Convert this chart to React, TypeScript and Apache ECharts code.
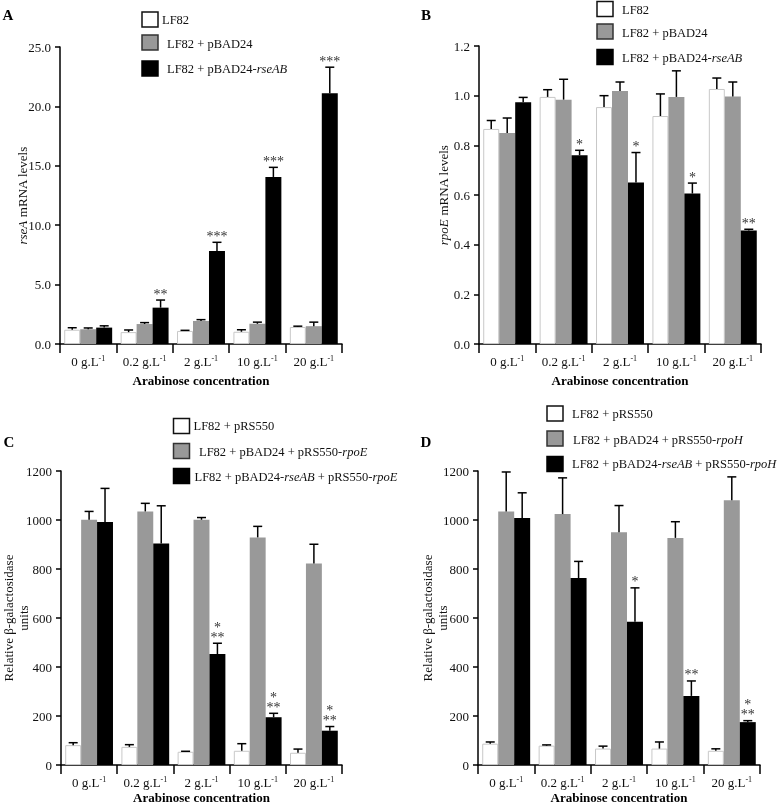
import React, { useEffect, useRef } from 'react';
import * as echarts from 'echarts';

const FONT = 'Liberation Serif, Times New Roman, serif';

// Shared categories (arabinose concentration, g.L-1)
const concentrations = ['0', '0.2', '2', '10', '20'];
const xAxisTitle = 'Arabinose concentration';

// Panel A: rseA mRNA levels
const aNames = ['LF82', 'LF82 + pBAD24', 'LF82 + pBAD24-rseAB'];
const aWhite = [1.2, 1.0, 1.1, 1.03, 1.43];
const aWhiteErr = [0.17, 0.18, 0.05, 0.17, 0.07];
const aGray = [1.25, 1.68, 1.94, 1.7, 1.5];
const aGrayErr = [0.1, 0.12, 0.11, 0.14, 0.34];
const aBlack = [1.38, 3.06, 7.83, 14.06, 21.1];
const aBlackErr = [0.15, 0.64, 0.73, 0.81, 2.2];
const aStars = ['', '**', '***', '***', '***'];

// Panel B: rpoE mRNA levels
const bNames = ['LF82', 'LF82 + pBAD24', 'LF82 + pBAD24-rseAB'];
const bWhite = [0.866, 0.995, 0.954, 0.918, 1.027];
const bWhiteErr = [0.034, 0.029, 0.046, 0.089, 0.044];
const bGray = [0.85, 0.984, 1.019, 0.995, 0.997];
const bGrayErr = [0.06, 0.082, 0.036, 0.105, 0.058];
const bBlack = [0.973, 0.76, 0.65, 0.606, 0.457];
const bBlackErr = [0.02, 0.02, 0.121, 0.042, 0.005];
const bStars = ['', '*', '*', '*', '**'];

// Panel C: relative beta-galactosidase units (rpoE)
const cNames = ['LF82 + pRS550', 'LF82 + pBAD24 + pRS550-rpoE', 'LF82 + pBAD24-rseAB + pRS550-rpoE'];
const cWhite = [81, 74, 54, 58, 50];
const cWhiteErr = [10, 9, 2, 29, 15];
const cGray = [1001, 1035, 1001, 929, 822];
const cGrayErr = [34, 33, 9, 45, 79];
const cBlack = [992, 904, 453, 195, 140];
const cBlackErr = [137, 154, 44, 16, 17];
const cStars = ['', '', '*\n**', '*\n**', '*\n**'];

// Panel D: relative beta-galactosidase units (rpoH)
const dNames = ['LF82 + pRS550', 'LF82 + pBAD24 + pRS550-rpoH', 'LF82 + pBAD24-rseAB + pRS550-rpoH'];
const dWhite = [87, 79, 67, 67, 58];
const dWhiteErr = [7, 3, 10, 27, 8];
const dGray = [1035, 1024, 950, 927, 1081];
const dGrayErr = [161, 148, 109, 66, 95];
const dBlack = [1008, 763, 585, 282, 175];
const dBlackErr = [103, 68, 138, 61, 6];
const dStars = ['', '', '*', '**', '*\n**'];

const barColors = ['#ffffff', '#999999', '#000000'];
const boxBorders = ['#111111', '#333333', '#000000'];

const panels = [
  {
    letter: 'A', letterPos: [8, 15],
    grid: { left: 60, top: 47, width: 282, height: 297 },
    yMax: 25, yStep: 5, dec: 1,
    yName: '{i|rseA} mRNA levels', yNameGap: 30, xNameGap: 30,
    names: aNames, values: [aWhite, aGray, aBlack], errs: [aWhiteErr, aGrayErr, aBlackErr], stars: aStars,
    legend: { boxX: 142, boxYs: [12, 35, 61], textXs: [162, 167, 167], textYs: [20, 44, 69] },
  },
  {
    letter: 'B', letterPos: [426, 15],
    grid: { left: 479, top: 46, width: 282, height: 298 },
    yMax: 1.2, yStep: 0.2, dec: 1,
    yName: '{i|rpoE} mRNA levels', yNameGap: 28, xNameGap: 30,
    names: bNames, values: [bWhite, bGray, bBlack], errs: [bWhiteErr, bGrayErr, bBlackErr], stars: bStars,
    legend: { boxX: 597, boxYs: [1.5, 24, 49.5], textXs: [622, 622, 622], textYs: [10, 33, 58] },
  },
  {
    letter: 'C', letterPos: [9, 442],
    grid: { left: 60, top: 471, width: 282, height: 297 },
    yMax: 1200, yStep: 200, dec: 0,
    yName: 'Relative β-galactosidase\nunits', yNameGap: 30, xNameGap: 26,
    names: cNames, values: [cWhite, cGray, cBlack], errs: [cWhiteErr, cGrayErr, cBlackErr], stars: cStars,
    legend: { boxX: 173.5, boxYs: [418.5, 443.5, 468.5], textXs: [193.5, 199, 194.5], textYs: [426, 452, 477] },
  },
  {
    letter: 'D', letterPos: [426, 442],
    grid: { left: 478, top: 471, width: 282, height: 297 },
    yMax: 1200, yStep: 200, dec: 0,
    yName: 'Relative β-galactosidase\nunits', yNameGap: 28, xNameGap: 26,
    names: dNames, values: [dWhite, dGray, dBlack], errs: [dWhiteErr, dGrayErr, dBlackErr], stars: dStars,
    legend: { boxX: 547, boxYs: [406, 431, 456.5], textXs: [572, 573, 572], textYs: [414, 440, 464] },
  },
];

const italicize = (s: string) => s.replace(/-(r[a-zA-Z]+)/g, '-{i|$1}');

function buildOption() {
  const grid: any[] = [];
  const xAxis: any[] = [];
  const yAxis: any[] = [];
  const series: any[] = [];
  const graphic: any[] = [];

  panels.forEach((p, gi) => {
    grid.push({ ...p.grid, containLabel: false });
    xAxis.push({
      type: 'category',
      gridIndex: gi,
      data: concentrations,
      axisLine: { lineStyle: { color: '#000', width: 1.5 } },
      axisTick: { show: true, length: 9, lineStyle: { color: '#000', width: 1.5 } },
      axisLabel: {
        margin: 10,
        interval: 0,
        hideOverlap: false,
        formatter: (v: string) => `{n|${v} g.L}{s|-1}`,
        rich: {
          n: { fontFamily: FONT, fontSize: 13, color: '#111' },
          s: { fontFamily: FONT, fontSize: 8, color: '#111', verticalAlign: 'top', padding: [0, 0, 6, 0] },
        },
      },
      name: xAxisTitle,
      nameLocation: 'middle',
      nameGap: p.xNameGap,
      nameMoveOverlap: false,
      nameTextStyle: { fontFamily: FONT, fontSize: 13, fontWeight: 'bold', color: '#000' },
    });
    yAxis.push({
      type: 'value',
      gridIndex: gi,
      min: 0,
      max: p.yMax,
      interval: p.yStep,
      splitLine: { show: false },
      axisLine: { show: true, lineStyle: { color: '#000', width: 1.5 } },
      axisTick: { show: true, length: 5, lineStyle: { color: '#000', width: 1.5 } },
      axisLabel: {
        margin: 9,
        fontFamily: FONT,
        fontSize: 13,
        color: '#111',
        formatter: (v: number) => v.toFixed(p.dec),
      },
      name: p.yName,
      nameLocation: 'middle',
      nameRotate: 90,
      nameGap: p.yNameGap,
      nameMoveOverlap: false,
      nameTextStyle: {
        fontFamily: FONT, fontSize: 13, color: '#111', lineHeight: 15, align: 'center',
        rich: { i: { fontFamily: FONT, fontSize: 13, fontStyle: 'italic', color: '#111' } },
      },
    });

    p.values.forEach((vals, k) => {
      series.push({
        type: 'bar',
        name: p.names[k],
        xAxisIndex: gi,
        yAxisIndex: gi,
        data: vals,
        barGap: '0%',
        barCategoryGap: '15%',
        itemStyle: k === 0
          ? { color: '#ffffff', borderColor: '#c8c8c8', borderWidth: 1 }
          : { color: barColors[k] },
        silent: true,
      });
    });

    const stars = p.stars;
    series.push({
      type: 'custom',
      xAxisIndex: gi,
      yAxisIndex: gi,
      silent: true,
      clip: false,
      z: 5,
      encode: { x: 0, y: [1, 3, 5] },
      data: concentrations.map((_, i) => [
        i, p.values[0][i], p.errs[0][i], p.values[1][i], p.errs[1][i], p.values[2][i], p.errs[2][i],
      ]),
      renderItem: (params: any, api: any) => {
        const idx = api.value(0) as number;
        const band = api.size([1, 0])[0];
        const bw = (band * 0.85) / 3;
        const center = api.coord([idx, 0]);
        const cap = 9;
        const children: any[] = [];
        for (let k = 0; k < 3; k++) {
          const v = api.value(1 + 2 * k) as number;
          const e = api.value(2 + 2 * k) as number;
          const x = center[0] + (k - 1) * bw;
          const yTop = api.coord([idx, v])[1];
          const yErr = api.coord([idx, v + e])[1];
          children.push({
            type: 'line',
            shape: { x1: x, y1: yTop, x2: x, y2: yErr },
            style: { stroke: '#000', lineWidth: 1.5 },
          });
          children.push({
            type: 'line',
            shape: { x1: x - cap / 2, y1: yErr, x2: x + cap / 2, y2: yErr },
            style: { stroke: '#000', lineWidth: 1.5 },
          });
          if (k === 2 && stars[idx]) {
            const lines = stars[idx].split('\n').reverse();
            lines.forEach((ln, li) => {
              children.push({
                type: 'text',
                x,
                y: yErr - 1 - li * 10,
                style: {
                  text: ln,
                  fill: '#333',
                  font: `14px ${FONT}`,
                  align: 'center',
                  verticalAlign: 'bottom',
                  lineHeight: 10,
                },
              });
            });
          }
        }
        return { type: 'group', children };
      },
    });

    // panel letter
    graphic.push({
      type: 'text',
      x: p.letterPos[0],
      y: p.letterPos[1],
      style: {
        text: p.letter, fill: '#000', font: `bold 15px ${FONT}`,
        align: 'center', verticalAlign: 'middle',
      },
    });

    // legend
    p.names.forEach((nm, k) => {
      graphic.push({
        type: 'rect',
        shape: { x: p.legend.boxX, y: p.legend.boxYs[k], width: 16, height: 15 },
        style: { fill: barColors[k], stroke: boxBorders[k], lineWidth: 1.5 },
      });
      graphic.push({
        type: 'text',
        x: p.legend.textXs[k],
        y: p.legend.textYs[k],
        style: {
          text: italicize(nm),
          fill: '#111',
          font: `12.5px ${FONT}`,
          align: 'left',
          verticalAlign: 'middle',
          rich: { i: { fontFamily: FONT, fontSize: 12.5, fontStyle: 'italic', fill: '#111' } },
        },
      });
    });
  });

  return {
    animation: false,
    backgroundColor: '#ffffff',
    textStyle: { fontFamily: FONT },
    grid,
    xAxis,
    yAxis,
    series,
    graphic,
  };
}

export default function App() {
  const ref = useRef<HTMLDivElement>(null);
  useEffect(() => {
    document.body.style.margin = '0';
    document.body.style.overflow = 'hidden';
    if (!ref.current) return;
    const chart = echarts.init(ref.current, undefined, { renderer: 'svg' });
    chart.setOption(buildOption() as any);
    return () => chart.dispose();
  }, []);
  return <div ref={ref} style={{ width: 777, height: 805, filter: 'grayscale(100%)' }} />;
}
